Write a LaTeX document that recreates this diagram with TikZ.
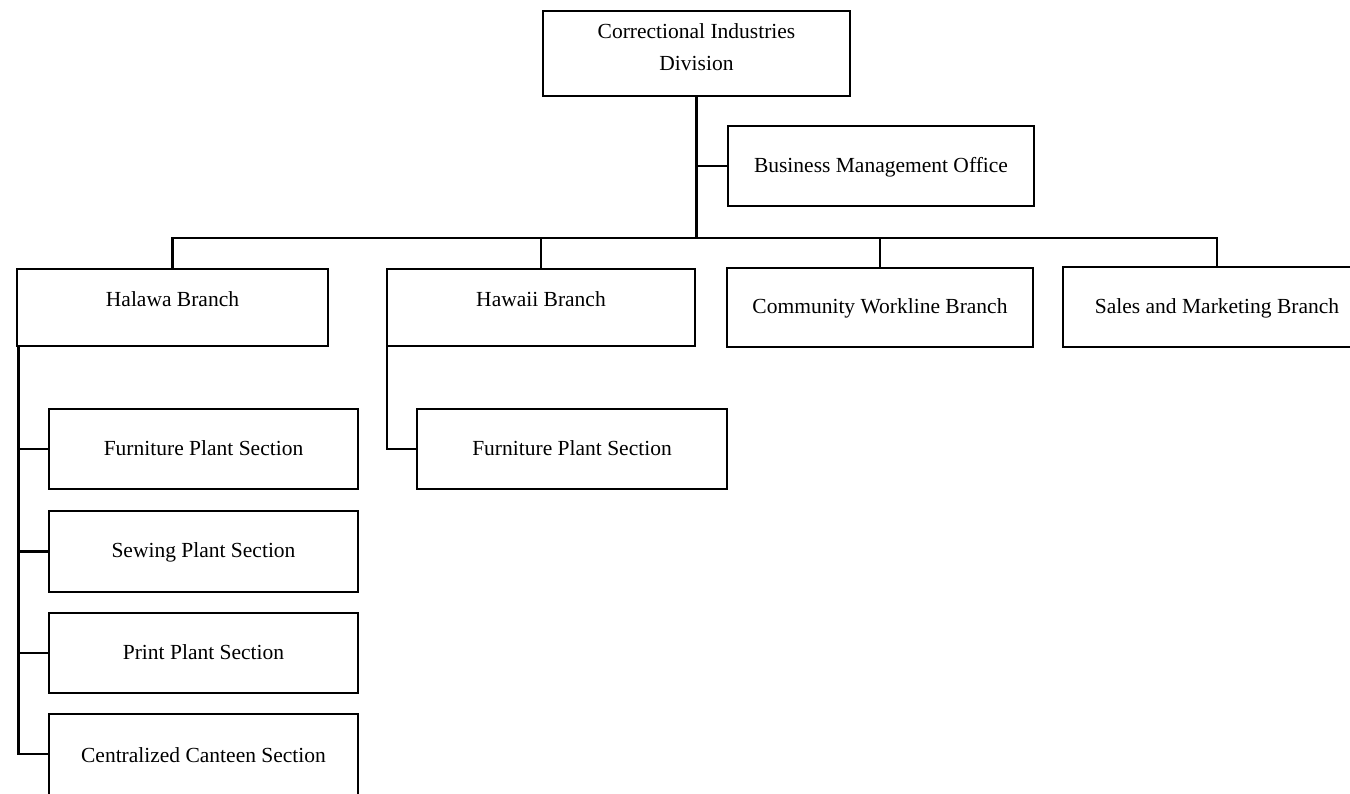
\documentclass[tikz,border=0pt]{standalone}
\usepackage{fontspec}
\setmainfont{Liberation Serif}
\begin{document}
\begin{tikzpicture}[x=1pt,y=-1pt,
  box/.style={draw=black,line width=2.4pt,inner sep=0pt,outer sep=0pt,
    font=\fontsize{21.5}{30}\selectfont,text height=16pt,text depth=4pt},
  hbox/.style={box,text depth=19pt},
  txt/.style={inner sep=0pt,font=\fontsize{21.5}{30}\selectfont,align=center},
  conn/.style={line width=2.4pt,line cap=rect}]
\useasboundingbox[fill=white] (0,0) rectangle (1350,793);
% top
\node[box,minimum width=307pt,minimum height=85pt] (top) at (696.5,53.5) {};
\node[txt] (toptext) at (696.5,47) {Correctional Industries\\[2pt]Division};
\node[box,minimum width=306pt,minimum height=80pt] (business) at (881,166) {Business Management Office};
% branches
\node[hbox,minimum width=311pt,minimum height=77pt] (halawa) at (172.5,307.5) {Halawa Branch};
\node[hbox,minimum width=308pt,minimum height=77pt] (hawaii) at (541,307.5) {Hawaii Branch};
\node[box,minimum width=306pt,minimum height=79pt] (community) at (880,307.5) {Community Workline Branch};
\node[box,minimum width=308pt,minimum height=80pt] (sales) at (1217,307) {Sales and Marketing Branch};
% sections
\node[box,minimum width=309pt,minimum height=80pt] (f1) at (203.5,449) {Furniture Plant Section};
\node[box,minimum width=309pt,minimum height=81pt] (sewing) at (203.5,551.5) {Sewing Plant Section};
\node[box,minimum width=309pt,minimum height=80pt] (print) at (203.5,653) {Print Plant Section};
\node[box,minimum width=309pt,minimum height=86pt,text depth=6pt] (canteen) at (203.5,757) {Centralized Canteen Section};
\node[box,minimum width=310pt,minimum height=80pt] (hf) at (572,449) {Furniture Plant Section};
% connectors
\coordinate (bus) at (0,238);
\coordinate (cantj) at (0,754);
\draw[conn] (top.south) -- (top.south |- bus);
\draw[conn] (top.south |- business.west) -- (business.west);
\draw[conn] (halawa.north) -- (halawa.north |- bus) -| (sales.north);
\draw[conn] (hawaii.north |- bus) -- (hawaii.north);
\draw[conn] (community.north |- bus) -- (community.north);
\draw[conn] ([xshift=1.5pt]halawa.south west) |- (canteen.west |- cantj);
\draw[conn] ([xshift=1.5pt]halawa.south west |- f1.west) -- (f1.west);
\draw[conn] ([xshift=1.5pt]halawa.south west |- sewing.west) -- (sewing.west);
\draw[conn] ([xshift=1.5pt]halawa.south west |- print.west) -- (print.west);
\draw[conn] (hawaii.south west) |- (hf.west);
\end{tikzpicture}
\end{document}
